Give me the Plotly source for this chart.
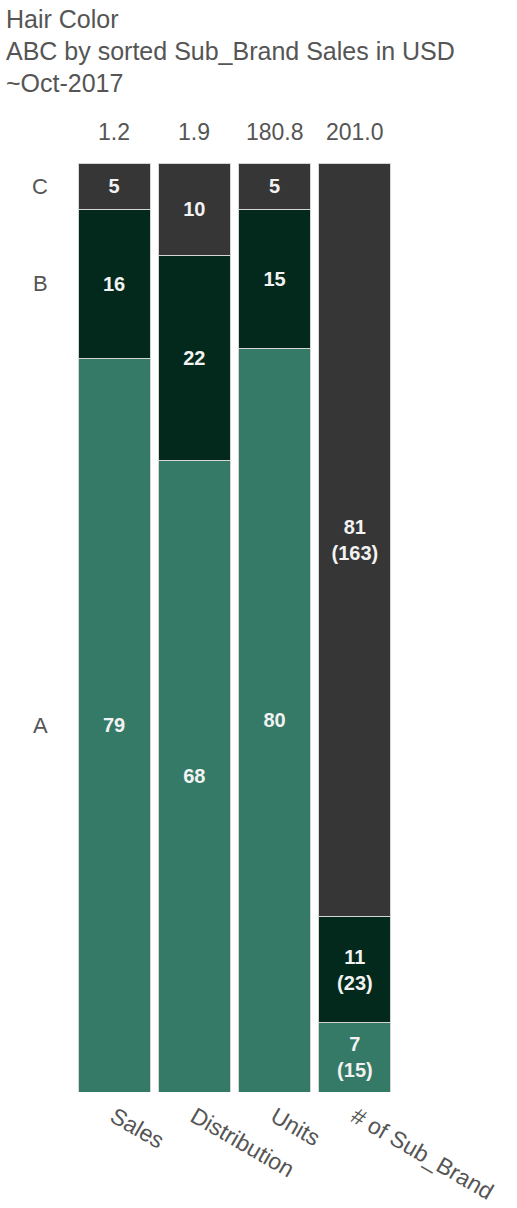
import plotly.graph_objects as go

# Measures shown as stacked 100% columns
measures = ["Sales", "Distribution", "Units", "# of Sub_Brand"]
totals = ["1.2", "1.9", "180.8", "201.0"]
segments = ["A", "B", "C"]

# share (%) of each segment per measure
share_a = [79, 68, 80, 7]
share_b = [16, 22, 15, 11]
share_c = [5, 10, 5, 81]

# sub-brand counts (only for the last column)
counts_a = 15
counts_b = 23
counts_c = 163

colors = {"A": "#347a67", "B": "#02291c", "C": "#363636"}

W, H = 517, 1208
ML, MR, MT, MB = 74, 122, 163, 116
PW, PH = W - ML - MR, H - MT - MB

FONT = "Arial, Liberation Sans, sans-serif"
GRAY = "#555555"


def pct_values(shares, count):
    total = counts_a + counts_b + counts_c
    vals = list(shares[:-1]) + [count / total * 100]
    return vals


vals = {
    "A": pct_values(share_a, counts_a),
    "B": pct_values(share_b, counts_b),
    "C": pct_values(share_c, counts_c),
}
shares = {"A": share_a, "B": share_b, "C": share_c}
counts = {"A": counts_a, "B": counts_b, "C": counts_c}

fig = go.Figure()
for seg in segments:
    labels = [str(v) for v in shares[seg][:-1]]
    labels.append(f"{shares[seg][-1]}<br>({counts[seg]})")
    fig.add_trace(go.Bar(
        x=measures,
        y=vals[seg],
        name=seg,
        text=labels,
        textposition="inside",
        insidetextanchor="middle",
        textangle=0,
        textfont=dict(family=FONT, size=20, color="#f2f2f2", weight="bold"),
        marker=dict(color=colors[seg], line=dict(color="#d6d6d6", width=1)),
        hoverinfo="skip",
    ))

annotations = []
# totals above each column
for m, t in zip(measures, totals):
    annotations.append(dict(
        x=m, y=1, xref="x", yref="paper", yanchor="bottom", yshift=16,
        text=t, showarrow=False, font=dict(family=FONT, size=23, color=GRAY),
    ))

# segment names aligned with the first column's segments
base = 0
for seg in segments:
    v = vals[seg][0]
    annotations.append(dict(
        x=-34 / PW, y=base + v / 2, xref="paper", yref="y",
        xanchor="center", yanchor="middle",
        text=seg, showarrow=False, font=dict(family=FONT, size=22, color=GRAY),
    ))
    base += v

# title block
title_lines = ["Hair Color", "ABC by sorted Sub_Brand Sales in USD", "~Oct-2017"]
for i, line in enumerate(title_lines):
    ypix = 19 + 32 * i
    annotations.append(dict(
        x=(4 - ML) / PW, y=1 + (MT - ypix) / PH, xref="paper", yref="paper",
        xanchor="left", yanchor="middle",
        text=line, showarrow=False, font=dict(family=FONT, size=25, color=GRAY),
    ))

fig.update_layout(
    width=W, height=H,
    margin=dict(l=ML, r=MR, t=MT, b=MB, pad=0, autoexpand=False),
    barmode="stack",
    bargap=0.103,
    showlegend=False,
    plot_bgcolor="white",
    paper_bgcolor="white",
    annotations=annotations,
    uniformtext=dict(mode=False),
)
fig.update_xaxes(
    showgrid=False, zeroline=False, showline=False, ticks="",
    tickangle=30, tickfont=dict(family=FONT, size=23, color=GRAY),
    ticklabelstandoff=6, automargin=False,
)
fig.update_yaxes(
    range=[0, 100], showgrid=False, zeroline=False, showline=False,
    showticklabels=False, ticks="", automargin=False,
)

fig.write_html("out.html")
